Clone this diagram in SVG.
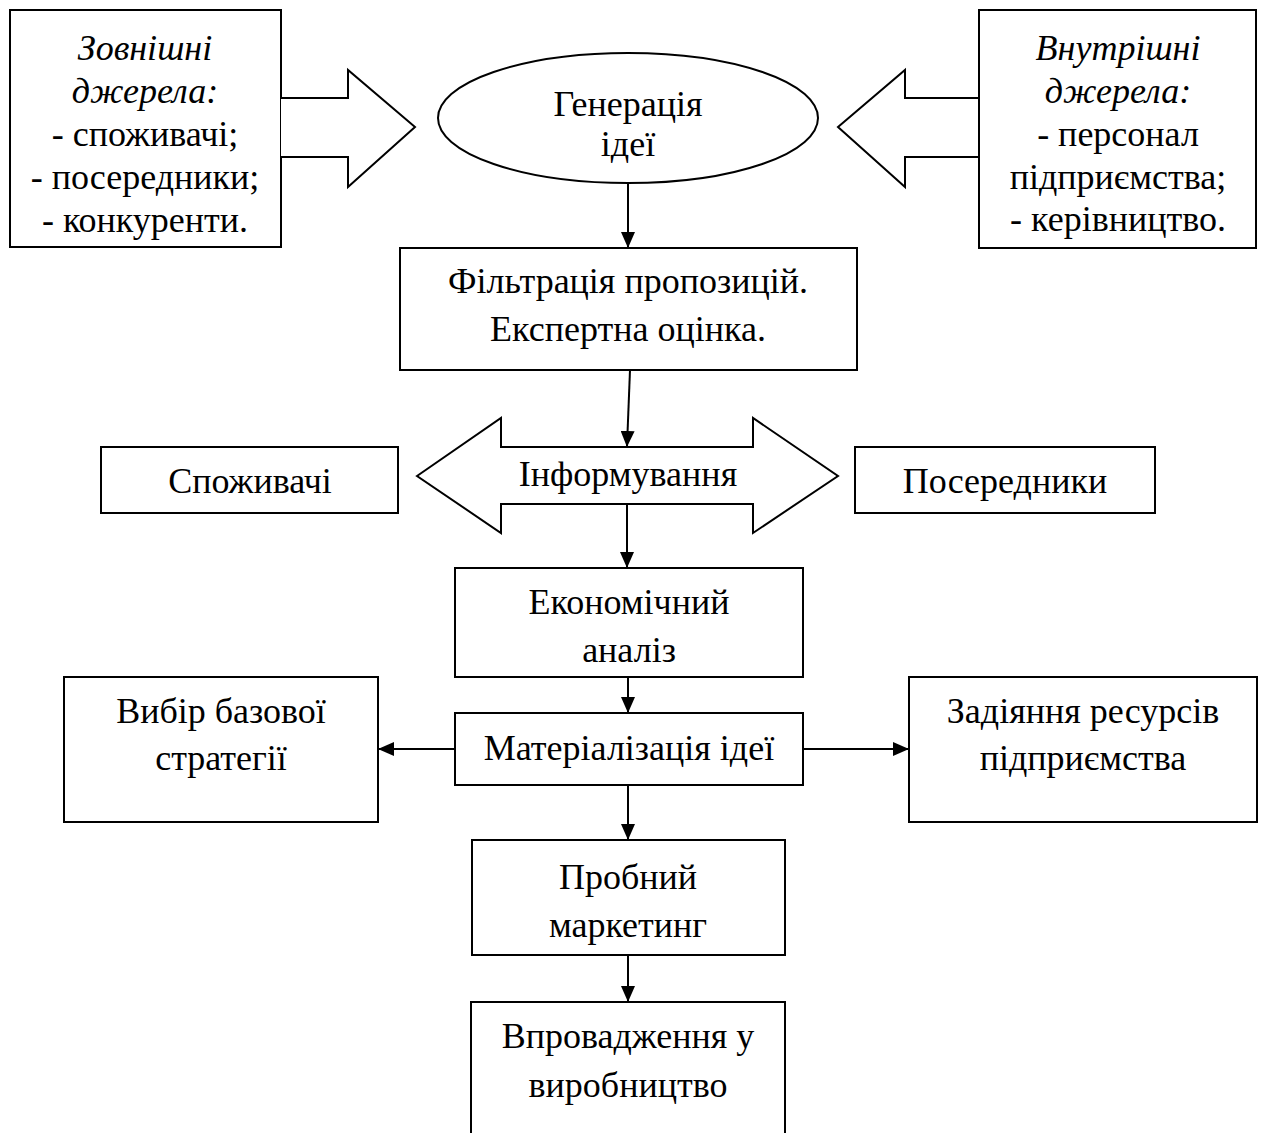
<svg xmlns="http://www.w3.org/2000/svg" width="1264" height="1133" viewBox="0 0 1264 1133">
<style>
.s{fill:#fff;stroke:#000;stroke-width:2}
.t{font-family:"Liberation Serif","Times New Roman",serif;font-size:36px;fill:#000;text-anchor:middle}
.i{font-style:italic}
.c{stroke:#000;stroke-width:2;fill:none}
</style>
<defs>
<marker id="ah" markerWidth="16" markerHeight="14" refX="15" refY="7" orient="auto" markerUnits="userSpaceOnUse">
<path d="M0,0 L16,7 L0,14 z" fill="#000"/>
</marker>
</defs>
<g id="ext">
<rect class="s" x="10" y="10" width="271" height="237"/>
<text class="t i" x="145" y="60">Зовнішні</text>
<text class="t i" x="145" y="103">джерела:</text>
<text class="t" x="145" y="146">- споживачі;</text>
<text class="t" x="145" y="189">- посередники;</text>
<text class="t" x="145" y="232">- конкуренти.</text>
</g>
<g id="extArrow">
<path class="s" d="M281,98 L348,98 L348,70 L415,127 L348,187 L348,157 L281,157"/>
</g>
<g id="gen">
<ellipse class="s" cx="628" cy="118" rx="190" ry="65"/>
<text class="t" x="628" y="116">Генерація</text>
<text class="t" x="628" y="156">ідеї</text>
</g>
<g id="intArrow">
<path class="s" d="M979,98 L905,98 L905,70 L838,127 L905,187 L905,157 L979,157"/>
</g>
<g id="int">
<rect class="s" x="979" y="10" width="277" height="238"/>
<text class="t i" x="1118" y="60">Внутрішні</text>
<text class="t i" x="1118" y="103">джерела:</text>
<text class="t" x="1118" y="146">- персонал</text>
<text class="t" x="1118" y="189">підприємства;</text>
<text class="t" x="1118" y="231">- керівництво.</text>
</g>
<g id="filter">
<rect class="s" x="400" y="248" width="457" height="122"/>
<text class="t" x="628" y="293">Фільтрація пропозицій.</text>
<text class="t" x="628" y="341">Експертна оцінка.</text>
</g>
<g id="info">
<path class="s" d="M417,476 L501,418 L501,447 L753,447 L753,418 L838,476 L753,533 L753,504 L501,504 L501,533 Z"/>
<text class="t" x="628" y="486">Інформування</text>
</g>
<g id="consumers">
<rect class="s" x="101" y="447" width="297" height="66"/>
<text class="t" x="250" y="493">Споживачі</text>
</g>
<g id="intermediaries">
<rect class="s" x="855" y="447" width="300" height="66"/>
<text class="t" x="1005" y="493">Посередники</text>
</g>
<g id="econ">
<rect class="s" x="455" y="568" width="348" height="109"/>
<text class="t" x="629" y="614">Економічний</text>
<text class="t" x="629" y="662">аналіз</text>
</g>
<g id="mat">
<rect class="s" x="455" y="713" width="348" height="72"/>
<text class="t" x="629" y="760">Матеріалізація ідеї</text>
</g>
<g id="strategy">
<rect class="s" x="64" y="677" width="314" height="145"/>
<text class="t" x="221" y="723">Вибір базової</text>
<text class="t" x="221" y="770">стратегії</text>
</g>
<g id="resources">
<rect class="s" x="909" y="677" width="348" height="145"/>
<text class="t" x="1083" y="723">Задіяння ресурсів</text>
<text class="t" x="1083" y="770">підприємства</text>
</g>
<g id="trial">
<rect class="s" x="472" y="840" width="313" height="115"/>
<text class="t" x="628" y="889">Пробний</text>
<text class="t" x="628" y="937">маркетинг</text>
</g>
<g id="impl">
<rect class="s" x="471" y="1002" width="314" height="140"/>
<text class="t" x="628" y="1048">Впровадження у</text>
<text class="t" x="628" y="1097">виробництво</text>
</g>
<g id="connectors">
<line class="c" x1="628" y1="183" x2="628" y2="247" marker-end="url(#ah)"/>
<line class="c" x1="630" y1="370" x2="627" y2="446" marker-end="url(#ah)"/>
<line class="c" x1="627" y1="504" x2="627" y2="567" marker-end="url(#ah)"/>
<line class="c" x1="628" y1="677" x2="628" y2="712" marker-end="url(#ah)"/>
<line class="c" x1="455" y1="749" x2="379" y2="749" marker-end="url(#ah)"/>
<line class="c" x1="803" y1="749" x2="908" y2="749" marker-end="url(#ah)"/>
<line class="c" x1="628" y1="785" x2="628" y2="839" marker-end="url(#ah)"/>
<line class="c" x1="628" y1="955" x2="628" y2="1001" marker-end="url(#ah)"/>
</g>
</svg>
